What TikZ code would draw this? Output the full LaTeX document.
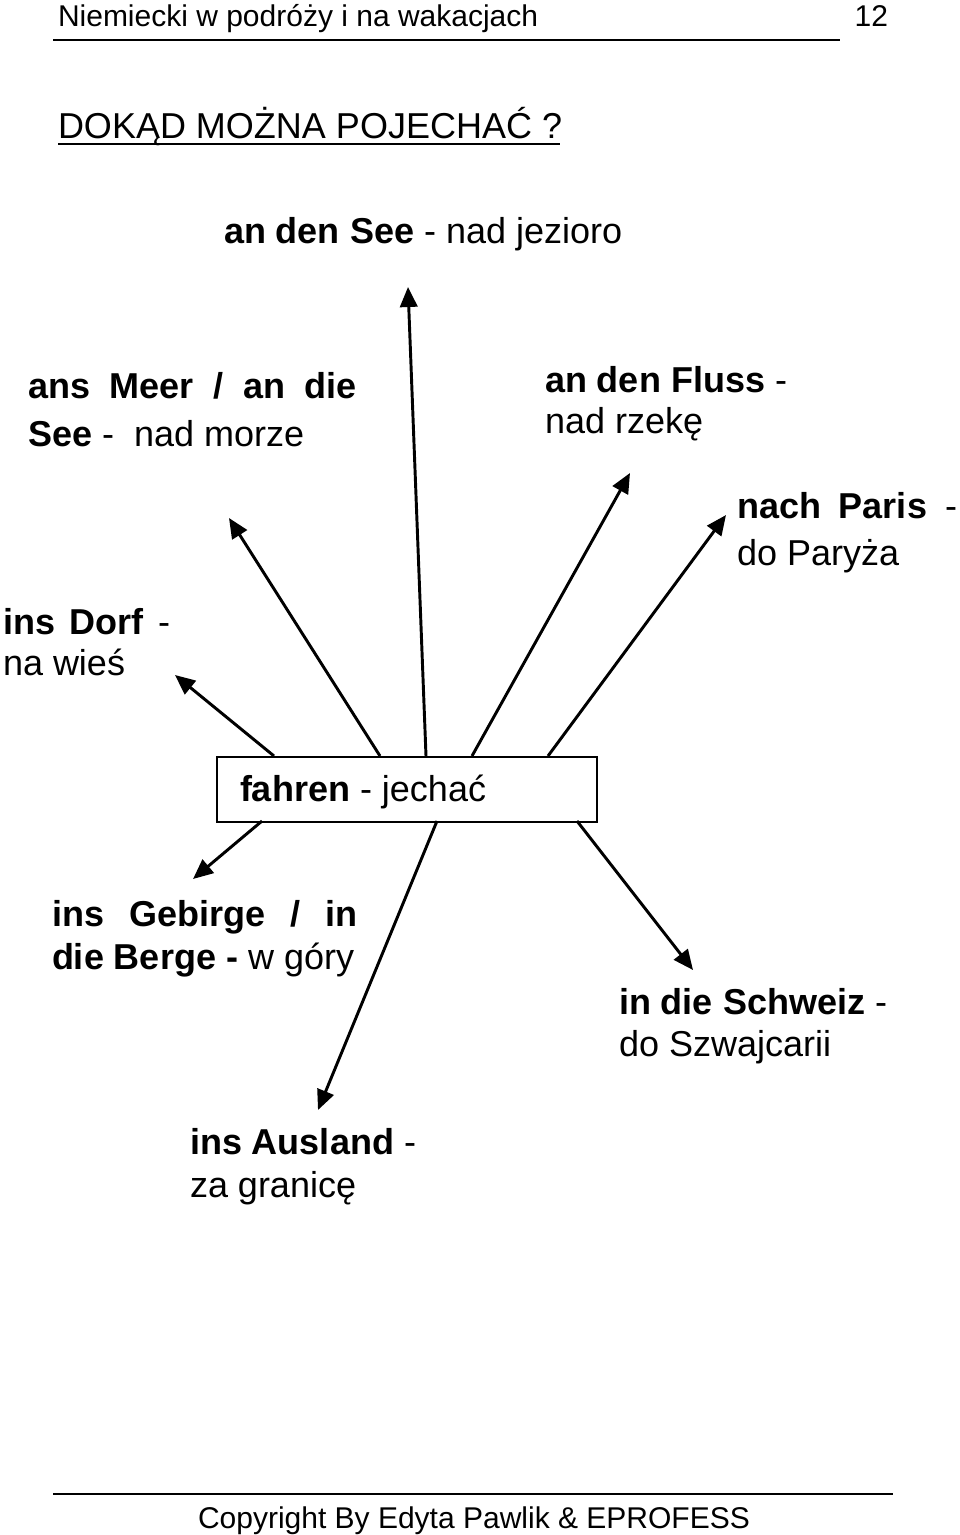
\documentclass[tikz,border=0pt]{standalone}
\usepackage{fontspec}
\setmainfont{Liberation Sans}
\usetikzlibrary{arrows.meta}
\newcommand\mainsz{\fontsize{27}{32}\selectfont}
\newcommand\headsz{\fontsize{22.5}{27}\selectfont}
\tikzset{
  txt/.style={anchor=base west, inner sep=0pt, outer sep=0pt, font=\mainsz},
  hd/.style={anchor=base west, inner sep=0pt, outer sep=0pt, font=\headsz},
  arr/.style={line width=2.2pt, -{Triangle[length=15pt,width=13pt]}},
  rulestyle/.style={line width=1.2pt}
}
\begin{document}
\begin{tikzpicture}[x=0.75pt,y=-0.75pt]
\useasboundingbox (0,0) rectangle (960,1535);
% header
\node[hd] (head) at (58,26) {Niemiecki w podróży i na wakacjach};
\node[hd, anchor=base east] (pagenum) at (888,26) {12};
\coordinate (hrl) at (53,40);
\coordinate (hrr) at (840,40);
\draw[rulestyle] (hrl) -- (hrr);
% title
\node[txt] (title) at (58,138) {DOKĄD MOŻNA POJECHAĆ ?};
\coordinate (ul) at (58,144);
\coordinate (ur) at (560,144);
\draw[line width=1.6pt] (ul) -- (ur);
% labels
\node[txt] (see) at (224,243) {\textbf{an den See} - nad jezioro};
\node[txt] (meer1) at (28,398) {\makebox[246.75pt][s]{\textbf{ans Meer / an die}}};
\node[txt] (meer2) at (28,446) {\textbf{See} -\ \ nad morze};
\node[txt] (fluss1) at (545,392) {\textbf{an den Fluss} -};
\node[txt] (fluss2) at (545,433) {nad rzekę};
\node[txt] (paris1) at (737,518) {\makebox[165pt][s]{\textbf{nach Paris} -}};
\node[txt] (paris2) at (737,565) {do Paryża};
\node[txt] (dorf1) at (3,634) {\makebox[125.25pt][s]{\textbf{ins Dorf} -}};
\node[txt] (dorf2) at (3,675) {na wieś};
\node[txt] (geb1) at (52,926) {\makebox[228.75pt][s]{\textbf{ins Gebirge / in}}};
\node[txt] (geb2) at (52,969) {\textbf{die Berge -} w góry};
\node[txt] (schw1) at (619,1014) {\textbf{in die Schweiz} -};
\node[txt] (schw2) at (619,1056) {do Szwajcarii};
\node[txt] (aus1) at (190,1154) {\textbf{ins Ausland} -};
\node[txt] (aus2) at (190,1197) {za granicę};
% central box
\node[draw, line width=1.5pt, anchor=north west, minimum width=285pt, minimum height=48.75pt, inner sep=0pt] (box) at (216,756) {};
\node[txt] (boxtext) at (240,801) {\textbf{fahren} - jechać};
% arrow ends
\coordinate (s1) at (426,756); \coordinate (t1) at (408,287);
\coordinate (s2) at (380,756); \coordinate (t2) at (229,518);
\coordinate (s3) at (274,756); \coordinate (t3) at (175,675);
\coordinate (s4) at (472,756); \coordinate (t4) at (630,473);
\coordinate (s5) at (548,756); \coordinate (t5) at (726,515);
\coordinate (s6) at (262,821); \coordinate (t6) at (193,879);
\coordinate (s7) at (437,821); \coordinate (t7) at (318,1110);
\coordinate (s8) at (577,821); \coordinate (t8) at (693,970);
\draw[arr] (s1) -- (t1);
\draw[arr] (s2) -- (t2);
\draw[arr] (s3) -- (t3);
\draw[arr] (s4) -- (t4);
\draw[arr] (s5) -- (t5);
\draw[arr] (s6) -- (t6);
\draw[arr] (s7) -- (t7);
\draw[arr] (s8) -- (t8);
% footer
\coordinate (frl) at (53,1494);
\coordinate (frr) at (893,1494);
\draw[rulestyle] (frl) -- (frr);
\node[hd] (copy) at (198,1528) {Copyright By Edyta Pawlik \& EPROFESS};
\end{tikzpicture}
\end{document}
